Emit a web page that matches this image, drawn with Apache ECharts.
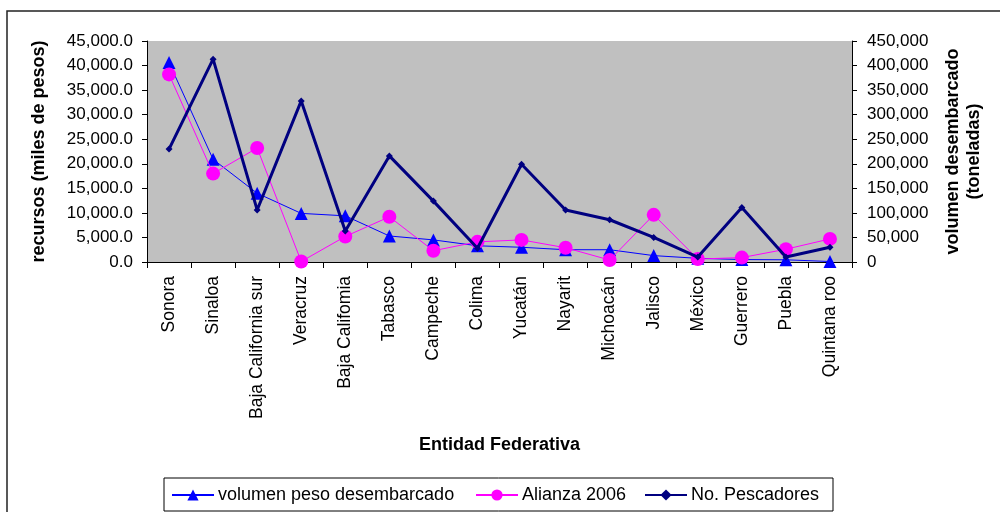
<!DOCTYPE html>
<html>
<head>
<meta charset="utf-8">
<script src="https://cdn.jsdelivr.net/npm/echarts@6/dist/echarts.min.js"></script>
<style>
  html, body { margin: 0; padding: 0; background: #fff; }
  #chart { width: 1000px; height: 512px; }
</style>
</head>
<body>
<div id="chart"></div>
<script>
// Entidades federativas
const estados = ['Sonora', 'Sinaloa', 'Baja California sur', 'Veracruz', 'Baja Califomia',
  'Tabasco', 'Campeche', 'Colima', 'Yucatán', 'Nayarit', 'Michoacán', 'Jalisco',
  'México', 'Guerrero', 'Puebla', 'Quintana roo'];

// volumen peso desembarcado (toneladas) – eje derecho
const volumen = [406000, 209000, 140000, 99000, 94000, 53000, 45000, 33000,
  30000, 25000, 25000, 13000, 7500, 5000, 4500, 1000];

// Alianza 2006 (miles de pesos) – eje izquierdo
const alianza = [38200, 18000, 23200, 100, 5200, 9200, 2300, 4100,
  4500, 2900, 400, 9600, 600, 900, 2600, 4700];

// No. Pescadores – eje izquierdo
const pescadores = [23000, 41300, 10600, 32800, 6300, 21600, 12400, 2800,
  19900, 10600, 8600, 5000, 1000, 11100, 1000, 3000];

const serieNames = ['volumen peso desembarcado', 'Alianza 2006', 'No. Pescadores'];

const fmtLeft = v => v.toLocaleString('en-US', { minimumFractionDigits: 1, maximumFractionDigits: 1 });
const fmtRight = v => v.toLocaleString('en-US');

const font = 'Liberation Sans, Arial, sans-serif';
const chart = echarts.init(document.getElementById('chart'));

// one legend entry per component so each sits at its own spot inside the shared box
const legendLefts = [171, 475, 644];
const legends = serieNames.map((n, i) => ({
  left: legendLefts[i], top: 486, padding: 0,
  itemWidth: 42, itemHeight: 14, itemGap: 0,
  textStyle: { fontFamily: font, fontSize: 18, color: '#000', padding: [0, 0, 0, -1] },
  data: [n]
}));

chart.setOption({
  animation: false,
  backgroundColor: '#ffffff',
  textStyle: { fontFamily: font, color: '#000' },
  graphic: [{
    type: 'rect',
    shape: { x: 7, y: 11, width: 1100, height: 600 },
    style: { fill: 'none', stroke: '#222', lineWidth: 1.5 },
    silent: true
  }, {
    type: 'rect',
    shape: { x: 164, y: 478, width: 669, height: 33 },
    style: { fill: '#fff', stroke: '#000', lineWidth: 1 },
    silent: true, z: -1
  }],
  grid: {
    left: 147, right: 148, top: 41, height: 221,
    show: true, backgroundColor: '#C0C0C0', borderWidth: 0
  },
  legend: legends,
  xAxis: {
    type: 'category',
    data: estados,
    boundaryGap: true,
    name: 'Entidad Federativa',
    nameLocation: 'middle',
    nameGap: 174,
    nameTextStyle: { fontFamily: font, fontSize: 18, fontWeight: 'bold', color: '#000' },
    axisLine: { lineStyle: { color: '#000', width: 1 } },
    axisTick: { show: true, interval: 0, length: 6, lineStyle: { color: '#000' } },
    axisLabel: { interval: 0, rotate: 90, margin: 14, fontFamily: font, fontSize: 17.5, color: '#000' }
  },
  yAxis: [{
    type: 'value', position: 'left',
    min: 0, max: 45000, interval: 5000,
    name: 'recursos (miles de pesos)',
    nameLocation: 'middle', nameRotate: 90, nameGap: 99,
    nameTextStyle: { fontFamily: font, fontSize: 18, fontWeight: 'bold', color: '#000' },
    axisLine: { show: true, lineStyle: { color: '#000', width: 1 } },
    axisTick: { show: true, length: 5, lineStyle: { color: '#000' } },
    axisLabel: { formatter: fmtLeft, margin: 14, fontFamily: font, fontSize: 17, color: '#000' },
    splitLine: { show: false }
  }, {
    type: 'value', position: 'right',
    min: 0, max: 450000, interval: 50000,
    name: 'volumen desembarcado\n(toneladas)',
    nameLocation: 'middle', nameRotate: 90, nameGap: 91,
    nameTextStyle: { fontFamily: font, fontSize: 18, fontWeight: 'bold', color: '#000', lineHeight: 21, align: 'center' },
    axisLine: { show: true, lineStyle: { color: '#000', width: 1 } },
    axisTick: { show: true, length: 5, lineStyle: { color: '#000' } },
    axisLabel: { formatter: fmtRight, margin: 15, fontFamily: font, fontSize: 17, color: '#000' },
    splitLine: { show: false }
  }],
  series: [{
    name: serieNames[0],
    type: 'line', yAxisIndex: 1, data: volumen,
    symbol: 'triangle', symbolSize: 13, showAllSymbol: true,
    lineStyle: { color: '#0000FF', width: 1 },
    itemStyle: { color: '#0000FF' },
    z: 3
  }, {
    name: serieNames[1],
    type: 'line', yAxisIndex: 0, data: alianza,
    symbol: 'circle', symbolSize: 14, showAllSymbol: true,
    lineStyle: { color: '#FF00FF', width: 1 },
    itemStyle: { color: '#FF00FF' },
    z: 4
  }, {
    name: serieNames[2],
    type: 'line', yAxisIndex: 0, data: pescadores,
    symbol: 'diamond', symbolSize: 7, showAllSymbol: true,
    lineStyle: { color: '#000080', width: 3 },
    itemStyle: { color: '#000080' },
    z: 5
  }]
});
</script>
</body>
</html>
